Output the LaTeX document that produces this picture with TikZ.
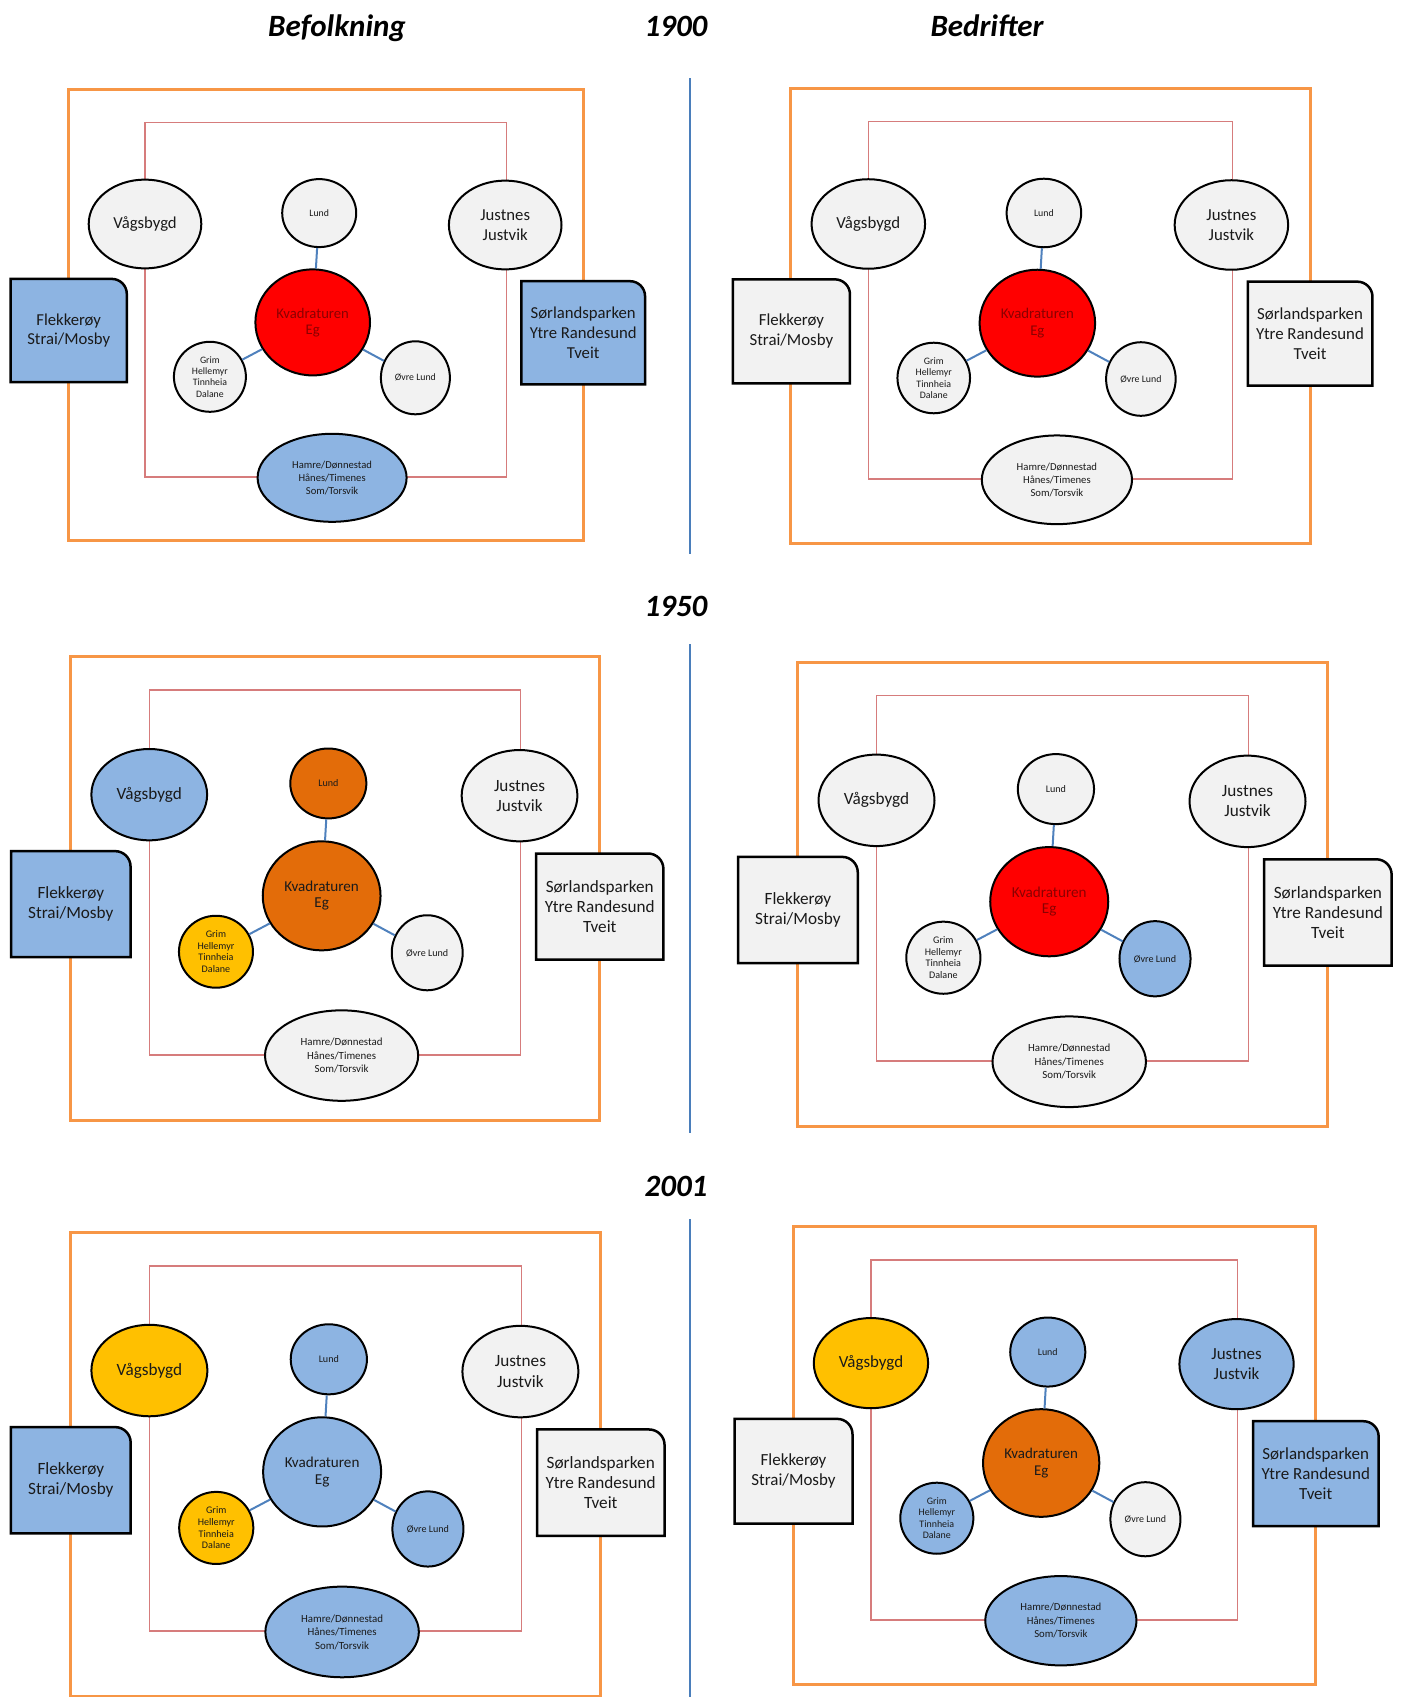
\documentclass[tikz,border=0pt]{standalone}
\usepackage{fontspec}
\setmainfont{Carlito}
\usetikzlibrary{shapes.geometric}
\pgfdeclarelayer{frames}
\pgfdeclarelayer{boxes}
\pgfsetlayers{frames,boxes,main}
\definecolor{gfill}{HTML}{F2F2F2}
\definecolor{nblue}{HTML}{8DB4E2}
\definecolor{nred}{HTML}{FF0000}
\definecolor{norange}{HTML}{E36C09}
\definecolor{nyellow}{HTML}{FFC000}
\definecolor{oframe}{HTML}{F79646}
\definecolor{rframe}{HTML}{D67C7C}
\definecolor{linkblue}{HTML}{4F81BD}
\definecolor{divblue}{HTML}{4A7EBB}
\definecolor{txt}{HTML}{1A1A1A}
\definecolor{dred}{HTML}{8B0000}
\newcommand\fbig{\fontsize{16.7}{19.6}\selectfont}
\newcommand\fmid{\fontsize{14.7}{16}\selectfont}
\newcommand\fsmall{\fontsize{10.6}{13.1}\selectfont}
\newcommand\ftiny{\fontsize{9.8}{11.3}\selectfont}
\tikzset{
  bubble/.style={ellipse, draw=black, line width=2pt, inner sep=0pt, align=center, text=txt},
  outerframe/.style={draw=oframe, line width=3pt},
  innerframe/.style={draw=rframe, line width=1.5pt},
  link/.style={draw=linkblue, line width=2pt},
  boxnode/.style={rectangle, inner sep=0pt, align=center, text=txt},
  boxline/.style={draw=black, line width=2.5pt},
  divider/.style={draw=divblue, line width=2pt},
  title/.style={anchor=base, font=\fontsize{31}{36}\selectfont\bfseries\itshape}
}
\newcommand\setcols[9]{\def\cV{#1}\def\cL{#2}\def\cJ{#3}\def\cK{#4}\def\cG{#5}\def\cO{#6}\def\cH{#7}\def\cF{#8}\def\cS{#9}}
% box outline with one rounded (top right) corner, around node #1, fill #2
\newcommand\cornerbox[2]{%
\filldraw[boxline,fill=#2] (#1.south west) -- (#1.north west) -- ([xshift=-15pt]#1.north east)
  .. controls ([xshift=-6.7pt]#1.north east) and ([yshift=-6.7pt]#1.north east) .. ([yshift=-15pt]#1.north east)
  -- (#1.south east) -- cycle;}
\newcommand\drawpanel[3]{%
\begin{scope}[shift={#1},scale=#2,transform shape]
\begin{pgfonlayer}{frames}
\draw[outerframe] (0,0) rectangle (515,451);
\draw[innerframe] (76.8,32.5) rectangle (438.1,387.3);
\end{pgfonlayer}
\node[bubble,fill=\cV,minimum width=112.6pt,minimum height=88.8pt,font=\fbig] (#3v) at (76.8,134.2) {Vågsbygd};
\node[bubble,fill=\cL,minimum width=74pt,minimum height=68pt,font=\ftiny] (#3l) at (251,123.3) {Lund};
\node[bubble,fill=\cJ,minimum width=112.6pt,minimum height=88.8pt,font=\fbig] (#3j) at (437,135.2) {Justnes\\Justvik};
\node[bubble,fill=\cK,text=ktext,minimum width=114.6pt,minimum height=106pt,font=\fmid] (#3k) at (244.5,232.6) {Kvadraturen\\Eg};
\node[bubble,fill=\cG,inner sep=-2pt,minimum width=72pt,minimum height=70pt,font=\ftiny] (#3g) at (141.7,287) {Grim\\Hellemyr\\Tinnheia\\Dalane};
\node[bubble,fill=\cO,minimum width=69pt,minimum height=73pt,font=\ftiny] (#3o) at (347.2,288) {Øvre Lund};
\node[bubble,fill=\cH,minimum width=149pt,minimum height=88pt,font=\fsmall] (#3h) at (263.9,388) {Hamre/Dønnestad\\Hånes/Timenes\\Som/Torsvik};
\node[boxnode,minimum width=115.8pt,minimum height=102.8pt,font=\fbig] (#3f) at (0.5,240.7) {Flekkerøy\\Strai/Mosby};
\node[boxnode,minimum width=123.3pt,minimum height=102.8pt,font=\fbig] (#3s) at (515,243) {Sørlandsparken\\Ytre Randesund\\Tveit};
\begin{pgfonlayer}{boxes}
\cornerbox{#3f}{\cF}
\cornerbox{#3s}{\cS}
\end{pgfonlayer}
\draw[link] (#3k) -- (#3l);
\draw[link] (#3k) -- (#3g);
\draw[link] (#3k) -- (#3o);
\end{scope}}
\begin{document}
\begin{tikzpicture}[x=1pt,y=-1pt]
\useasboundingbox (0,0) rectangle (1400,1697);
\node[title] (tbef) at (337,36.5) {Befolkning};
\node[title] (t1900) at (676,36.5) {1900};
\node[title] (tbed) at (987,36.5) {Bedrifter};
\node[title] (t1950) at (676,616) {1950};
\node[title] (t2001) at (676,1196) {2001};
\coordinate (d1a) at (690.3,78);   \coordinate (d1b) at (690.3,554);
\coordinate (d2a) at (690.3,644);  \coordinate (d2b) at (690.3,1133);
\coordinate (d3a) at (690.3,1219); \coordinate (d3b) at (690.3,1697);
\draw[divider] (d1a) -- (d1b);
\draw[divider] (d2a) -- (d2b);
\draw[divider] (d3a) -- (d3b);
% 1900 Befolkning
\colorlet{ktext}{dred}
\setcols{gfill}{gfill}{gfill}{nred}{gfill}{gfill}{nblue}{nblue}{nblue}
\drawpanel{(68.2,89.8)}{1.0}{pa}
% 1900 Bedrifter
\setcols{gfill}{gfill}{gfill}{nred}{gfill}{gfill}{gfill}{gfill}{gfill}
\drawpanel{(790.9,88.7)}{1.008}{pb}
% 1950 Befolkning
\colorlet{ktext}{txt}
\setcols{nblue}{norange}{gfill}{norange}{nyellow}{gfill}{gfill}{nblue}{gfill}
\drawpanel{(70.3,656.7)}{1.028}{pc}
% 1950 Bedrifter
\colorlet{ktext}{dred}
\setcols{gfill}{gfill}{gfill}{nred}{gfill}{nblue}{gfill}{gfill}{gfill}
\drawpanel{(797.4,662.1)}{1.03}{pd}
% 2001 Befolkning
\colorlet{ktext}{txt}
\setcols{nyellow}{nblue}{gfill}{nblue}{nyellow}{nblue}{nblue}{nblue}{gfill}
\drawpanel{(70.3,1232.3)}{1.03}{pe}
% 2001 Bedrifter
\setcols{nyellow}{nblue}{nblue}{norange}{nblue}{gfill}{nblue}{gfill}{nblue}
\drawpanel{(793.0,1226.9)}{1.015}{pf}
\end{tikzpicture}
\end{document}
